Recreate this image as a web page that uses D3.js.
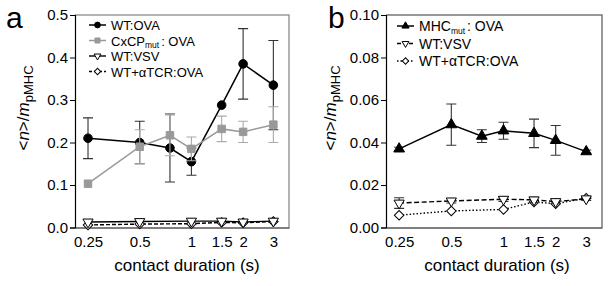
<!DOCTYPE html>
<html lang="en">
<head>
<meta charset="utf-8">
<script src="https://d3js.org/d3.v7.min.js"></script>
<style>
  body { margin: 0; background: #fff; }
  text { font-family: "Liberation Sans", Arial, sans-serif; fill: #000; }
</style>
</head>
<body>
<script>
// contact durations (s)
const durations = [0.25, 0.5, 0.75, 1, 1.5, 2, 3];
const durationsShort = [0.25, 0.5, 1, 1.5, 2, 3];
const xTicks = [0.25, 0.5, 1, 1.5, 2, 3];
const yTicksA = [0, 0.1, 0.2, 0.3, 0.4, 0.5];
const yTicksB = [0, 0.02, 0.04, 0.06, 0.08, 0.10];

// panel a
const wtOva = [0.21, 0.2, 0.187, 0.155, 0.288, 0.385, 0.335];
const wtOvaErr = [0.048, 0.05, 0.08, 0.032, 0, 0.083, 0.105];
const cxcpOva = [0.103, 0.19, 0.217, 0.185, 0.232, 0.225, 0.242];
const cxcpOvaErr = [0, 0.04, 0.048, 0.028, 0.03, 0.025, 0.042];
const wtVsvA = [0.013, 0.014, 0.015, 0.015, 0.013, 0.015];
const wtTcrA = [0.006, 0.008, 0.009, 0.012, 0.011, 0.014];

// panel b
const mhcOva = [0.037, 0.0484, 0.043, 0.0455, 0.0443, 0.041, 0.0357];
const mhcOvaErr = [0.0008, 0.0097, 0.003, 0.004, 0.0067, 0.007, 0.0008];
const wtVsvB = [0.0115, 0.0125, 0.0133, 0.013, 0.0122, 0.0135];
const wtVsvBErr = [0.0025, 0.001, 0.001, 0.0012, 0.001, 0.0008];
const wtTcrB = [0.0058, 0.0078, 0.0085, 0.012, 0.0112, 0.0138];

const W = 611, H = 286;
const svg = d3.select("body").append("svg").attr("width", W).attr("height", H);

function pts(xs, ys, es) {
  return xs.map((x, i) => ({x: x, y: ys[i], e: es ? es[i] : 0}));
}

function drawPanel(p) {
  const x = d3.scaleLog().domain([0.21, 3.7]).range([p.left, p.right]);
  const y = d3.scaleLinear().domain(p.yDomain).range([227.5, 15]);
  const g = svg.append("g");

  // frame (top / right grey)
  g.append("path")
    .attr("d", `M${p.left},15H${p.right}V227.5`)
    .attr("fill", "none").attr("stroke", p.frame).attr("stroke-width", 1.5);

  // y axis
  const ya = g.append("g").attr("transform", `translate(${p.left},0)`)
    .call(d3.axisLeft(y).tickValues(p.yTicks).tickFormat(d3.format(p.fmt)).tickSize(5).tickPadding(2));
  ya.select(".domain").attr("stroke", "#000").attr("stroke-width", 1.2);
  ya.selectAll("text").style("font-size", "15px");

  // x axis
  const xa = g.append("g").attr("transform", "translate(0,227.5)")
    .call(d3.axisBottom(x).tickValues(xTicks).tickFormat(d => d).tickSize(0).tickPadding(9));
  xa.select(".domain").attr("stroke", "#000").attr("stroke-width", 1.2);
  xa.selectAll("text").style("font-size", "15px");

  // labels
  g.append("text").attr("x", p.xLabelX).attr("y", 271).attr("text-anchor", "middle")
    .style("font-size", "17px").text("contact duration (s)");

  const yl = g.append("text").attr("transform", `translate(${p.yLabelX},108) rotate(-90)`)
    .attr("text-anchor", "middle").style("font-size", "17px");
  yl.append("tspan").text("<");
  yl.append("tspan").style("font-style", "italic").text("n");
  yl.append("tspan").text(">/");
  yl.append("tspan").style("font-style", "italic").text("m");
  yl.append("tspan").attr("dy", 4).style("font-size", "13px").text("pMHC");

  g.append("text").attr("x", p.letterX).attr("y", 28).style("font-size", "30px").text(p.letter);

  // series
  p.series.forEach(s => {
    const d = s.data;
    const line = d3.line().x(v => x(v.x)).y(v => y(v.y));
    g.append("path").datum(d).attr("d", line).attr("fill", "none")
      .attr("stroke", s.color).attr("stroke-width", s.lw || 1.4)
      .attr("stroke-dasharray", s.dash || null);
    const eb = d.filter(v => v.e > 0);
    g.selectAll(null).data(eb).join("path")
      .attr("d", v => {
        const cx = x(v.x), y0 = y(v.y - v.e), y1 = y(v.y + v.e);
        return `M${cx},${y0}V${y1}M${cx - 5},${y0}H${cx + 5}M${cx - 5},${y1}H${cx + 5}`;
      })
      .attr("fill", "none").attr("stroke", s.errColor).attr("stroke-width", 1.1);
    g.selectAll(null).data(d).join("path")
      .attr("d", d3.symbol().type(s.sym).size(s.size))
      .attr("transform", v => `translate(${x(v.x)},${y(v.y)}) rotate(${s.rot || 0})`)
      .attr("fill", s.fill).attr("stroke", s.stroke).attr("stroke-width", 1);
  });

  // legend
  p.series.slice().sort((a, b) => a.leg - b.leg).forEach((s, i) => {
    const ly = p.legY + i * p.legStep;
    g.append("line").attr("x1", p.legX).attr("x2", p.legX + 17).attr("y1", ly).attr("y2", ly)
      .attr("stroke", s.color).attr("stroke-width", s.lw || 1.4)
      .attr("stroke-dasharray", s.legDash || null);
    g.append("path").attr("d", d3.symbol().type(s.sym).size(s.size * 0.45))
      .attr("transform", `translate(${p.legX + 8.5},${ly}) rotate(${s.rot || 0})`)
      .attr("fill", s.fill).attr("stroke", s.stroke).attr("stroke-width", 1);
    const t = g.append("text").attr("x", p.legX + 22).attr("y", ly + 5).style("font-size", p.legFont);
    s.label.forEach(part => {
      const ts = t.append("tspan").text(part.t);
      if (part.sub) ts.attr("dy", 2.5).style("font-size", "8.5px");
      if (part.back) ts.attr("dy", -2.5).attr("dx", 2);
    });
  });
}

const diamond = d3.symbolSquare;

drawPanel({
  letter: "a", letterX: 6, left: 75, right: 289, frame: "#9a9a9a",
  yDomain: [0, 0.5], yTicks: yTicksA, fmt: ".1f", xLabelX: 187, yLabelX: 29,
  legX: 89, legY: 25, legStep: 15.5, legFont: "13px",
  series: [
    {leg: 3, data: pts(durationsShort, wtTcrA), color: "#000", dash: "4,2", legDash: "3,2", sym: diamond, rot: 45, size: 45,
     fill: "#fff", stroke: "#000", label: [{t: "WT+\u03b1TCR:OVA"}]},
    {leg: 2, data: pts(durationsShort, wtVsvA), color: "#000", sym: d3.symbolTriangle, rot: 180, size: 45,
     fill: "#fff", stroke: "#000", label: [{t: "WT:VSV"}]},
    {leg: 0, data: pts(durations, wtOva, wtOvaErr), color: "#000", errColor: "#333", lw: 1.5, sym: d3.symbolCircle, size: 58,
     fill: "#000", stroke: "#000", label: [{t: "WT:OVA"}]},
    {leg: 1, data: pts(durations, cxcpOva, cxcpOvaErr), color: "#999", errColor: "#aaa", lw: 1.5, sym: d3.symbolSquare, size: 56,
     fill: "#999", stroke: "#999", label: [{t: "CxCP"}, {t: "mut", sub: true}, {t: ": OVA", back: true}]}
  ]
});

drawPanel({
  letter: "b", letterX: 328, left: 386, right: 602, frame: "#777",
  yDomain: [0, 0.1], yTicks: yTicksB, fmt: ".2f", xLabelX: 497, yLabelX: 336,
  legX: 397, legY: 26, legStep: 17.5, legFont: "14px",
  series: [
    {leg: 2, data: pts(durationsShort, wtTcrB), color: "#000", dash: "1.5,2", legDash: "1.5,2", sym: diamond, rot: 45, size: 45,
     fill: "#fff", stroke: "#000", label: [{t: "WT+\u03b1TCR:OVA"}]},
    {leg: 1, data: pts(durationsShort, wtVsvB, wtVsvBErr), color: "#000", errColor: "#333", dash: "5,2.5", legDash: "4,2", sym: d3.symbolTriangle, rot: 180, size: 45,
     fill: "#fff", stroke: "#000", label: [{t: "WT:VSV"}]},
    {leg: 0, data: pts(durations, mhcOva, mhcOvaErr), color: "#000", errColor: "#333", lw: 1.5, sym: d3.symbolTriangle, size: 50,
     fill: "#000", stroke: "#000", label: [{t: "MHC"}, {t: "mut", sub: true}, {t: ": OVA", back: true}]}
  ]
});
</script>
</body>
</html>
